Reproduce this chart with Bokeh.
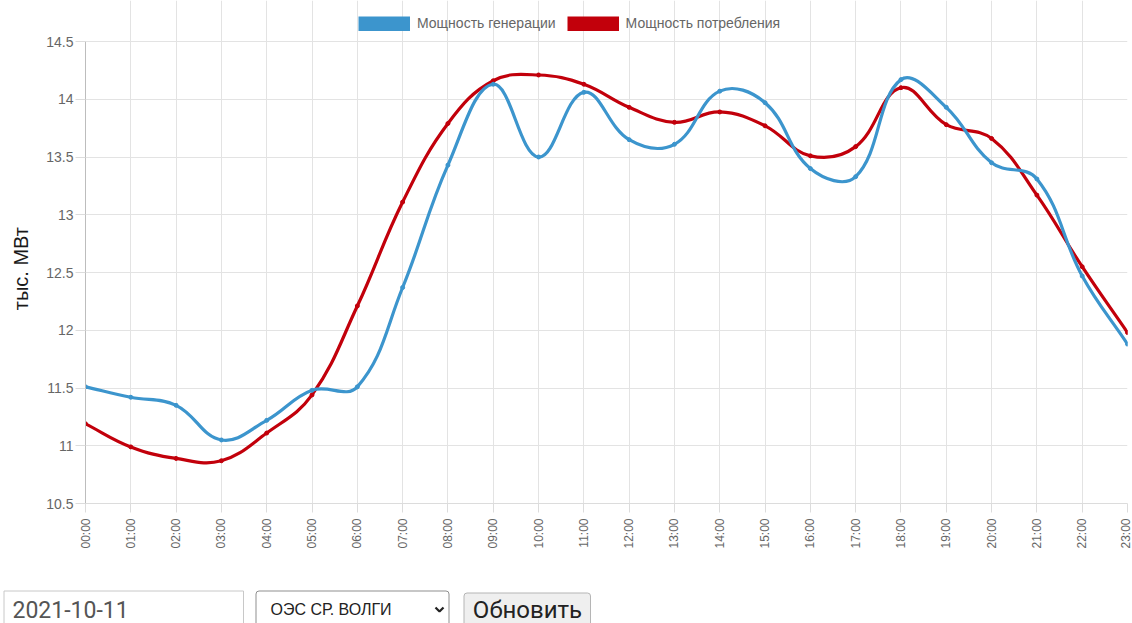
import math
from bokeh.plotting import figure
from bokeh.models import (Range1d, FixedTicker, NumeralTickFormatter, Legend,
                          LegendItem, ColumnDataSource)
from bokeh.layouts import column
from bokeh.embed import file_html
from bokeh.resources import INLINE
from bokeh.core.properties import value

# ---------------- data ----------------
hours = ["00:00", "01:00", "02:00", "03:00", "04:00", "05:00", "06:00", "07:00",
         "08:00", "09:00", "10:00", "11:00", "12:00", "13:00", "14:00", "15:00",
         "16:00", "17:00", "18:00", "19:00", "20:00", "21:00", "22:00", "23:00"]
generation = [11.51, 11.42, 11.35, 11.05, 11.22, 11.48, 11.51, 12.37,
              13.43, 14.13, 13.50, 14.06, 13.65, 13.61, 14.07, 13.97,
              13.40, 13.33, 14.17, 13.93, 13.45, 13.31, 12.47, 11.88]
consumption = [11.19, 10.99, 10.89, 10.87, 11.11, 11.44, 12.21, 13.11,
               13.79, 14.16, 14.21, 14.13, 13.93, 13.80, 13.89, 13.77,
               13.51, 13.59, 14.10, 13.78, 13.66, 13.17, 12.55, 11.98]
y_ticks = [10.5, 11, 11.5, 12, 12.5, 13, 13.5, 14, 14.5]
series_names = ["Мощность генерации", "Мощность потребления"]
y_title = "тыс. МВт"
date_text = "2021-10-11"
region_text = "ОЭС СР. ВОЛГИ"
button_text = "Обновить"

BLUE = "#3c95cd"
RED = "#c2000b"
FONT = "Liberation Sans"

W = 1132
H_MAIN = 578
H_CTRL = 45
ML, MR, MB = 85, 5, 75
PLOT_TOP = 41            # pixel row of the 14.5 gridline; legend lives above it
FW = W - ML - MR
FH = H_MAIN - MB          # frame spans from top of canvas to the x axis
DATA_H = FH - PLOT_TOP    # pixels used by the y tick range

x_idx = list(range(len(hours)))
sx = FW / (len(hours) - 1)
sy = DATA_H / (y_ticks[-1] - y_ticks[0])
y_top = y_ticks[-1] + PLOT_TOP / sy

p = figure(width=W, height=H_MAIN, output_backend="svg", toolbar_location=None,
           x_range=Range1d(0, len(hours) - 1), y_range=Range1d(y_ticks[0], y_top),
           min_border_left=ML, min_border_right=MR, min_border_top=0, min_border_bottom=MB)
p.frame_align = False
p.outline_line_color = None
p.background_fill_color = "white"
p.border_fill_color = "white"


def spline(xs, ys, sx, sy, t=0.4):
    n = len(xs)
    px = [x * sx for x in xs]
    py = [y * sy for y in ys]
    prev_cp, next_cp = [], []
    for i in range(n):
        a = max(i - 1, 0)
        b = min(i + 1, n - 1)
        d01 = math.hypot(px[i] - px[a], py[i] - py[a])
        d12 = math.hypot(px[b] - px[i], py[b] - py[i])
        tot = d01 + d12
        s01 = d01 / tot if tot else 0
        s12 = d12 / tot if tot else 0
        fa, fb = t * s01, t * s12
        prev_cp.append((px[i] - fa * (px[b] - px[a]), py[i] - fa * (py[b] - py[a])))
        next_cp.append((px[i] + fb * (px[b] - px[a]), py[i] + fb * (py[b] - py[a])))
    return dict(
        x0=xs[:-1], y0=ys[:-1], x1=xs[1:], y1=ys[1:],
        cx0=[next_cp[i][0] / sx for i in range(n - 1)],
        cy0=[next_cp[i][1] / sy for i in range(n - 1)],
        cx1=[prev_cp[i + 1][0] / sx for i in range(n - 1)],
        cy1=[prev_cp[i + 1][1] / sy for i in range(n - 1)],
    )


swatches = []
for ys, col in [(generation, BLUE), (consumption, RED)]:
    # hidden thick line: only used to give the legend a box-shaped swatch
    swatches.append(p.line(x_idx, ys, line_color=col, line_width=15, visible=False))

for ys, col in [(consumption, RED), (generation, BLUE)]:
    src = ColumnDataSource(spline(x_idx, ys, sx, sy))
    p.bezier("x0", "y0", "x1", "y1", "cx0", "cy0", "cx1", "cy1", source=src,
             line_color=col, line_width=3.2, line_cap="round")
    p.scatter(x_idx, ys, size=4, fill_color=col, line_color=col)

legend = Legend(items=[LegendItem(label=series_names[0], renderers=[swatches[0]]),
                       LegendItem(label=series_names[1], renderers=[swatches[1]])],
                orientation="horizontal", location=(358 - ML, FH - 31),
                glyph_width=52, glyph_height=15, label_height=15, label_standoff=7,
                spacing=11, padding=0, margin=0, border_line_color=None,
                background_fill_alpha=0, label_text_font=FONT,
                label_text_font_size="14px", label_text_color="#666666",
                label_text_baseline="middle", inactive_fill_alpha=0)
p.add_layout(legend)

# grids
p.xgrid.ticker = FixedTicker(ticks=x_idx)
p.ygrid.ticker = FixedTicker(ticks=y_ticks)
p.xgrid.bounds = (y_ticks[0], y_ticks[-1])
p.xgrid.grid_line_color = "#e3e3e3"
p.ygrid.grid_line_color = "#e3e3e3"

# x axis
p.xaxis.ticker = FixedTicker(ticks=x_idx)
p.xaxis.major_label_overrides = {i: h for i, h in enumerate(hours)}
p.xaxis.major_label_orientation = math.pi / 2
p.xaxis.major_label_text_font = FONT
p.xaxis.major_label_text_font_size = "12px"
p.xaxis.major_label_text_color = "#666666"
p.xaxis.major_label_standoff = 6
p.xaxis.major_tick_out = 9
p.xaxis.major_tick_in = 0
p.xaxis.minor_tick_out = 0
p.xaxis.major_tick_line_color = "#dcdcdc"
p.xaxis.axis_line_color = "#dcdcdc"

# y axis
p.yaxis.bounds = (y_ticks[0], y_ticks[-1])
p.yaxis.ticker = FixedTicker(ticks=y_ticks)
p.yaxis.formatter = NumeralTickFormatter(format="0.[0]")
p.yaxis.major_label_text_font = FONT
p.yaxis.major_label_text_font_size = "14px"
p.yaxis.major_label_text_color = "#666666"
p.yaxis.major_label_standoff = 2
p.yaxis.major_tick_out = 10
p.yaxis.major_tick_in = 0
p.yaxis.minor_tick_out = 0
p.yaxis.major_tick_line_color = "#dcdcdc"
p.yaxis.axis_line_color = "#bdbdbd"
# non-breaking spaces pad the title so it is centred on the 10.5-14.5 span
p.yaxis.axis_label = y_title + "\u00a0" * 6
p.yaxis.axis_label_text_font = FONT
p.yaxis.axis_label_text_font_size = "20px"
p.yaxis.axis_label_text_font_style = "normal"
p.yaxis.axis_label_text_color = "#1a1a1a"
p.yaxis.axis_label_standoff = 11

# ---------------- controls strip (page pixel coordinates) ----------------
TOP = H_MAIN
c = figure(width=W, height=H_CTRL, output_backend="svg", toolbar_location=None,
           x_range=Range1d(0, W), y_range=Range1d(TOP + H_CTRL, TOP),
           min_border=0, min_border_left=0, min_border_right=0,
           min_border_top=0, min_border_bottom=0)
c.frame_align = False
c.axis.visible = False
c.grid.visible = False
c.outline_line_color = None
c.background_fill_color = "white"
c.border_fill_color = "white"

CTRL_FONT = "Roboto"
c.quad(left=[3.5], right=[243], top=[590.5], bottom=[640], fill_color="white",
       line_color="#c8c8c8", line_width=1)
c.text(x=[12], y=[609], text=[date_text], text_font=value(CTRL_FONT),
       text_font_size="23px", text_color="#555555", text_baseline="middle")
c.quad(left=[255.5], right=[448.5], top=[590.5], bottom=[640], fill_color="white",
       line_color="#8f8f8f", line_width=1, border_radius=3)
c.text(x=[270], y=[609], text=[region_text], text_font=value(FONT),
       text_font_size="16px", text_color="#222222", text_baseline="middle")
c.line(x=[435, 439, 443], y=[607, 611, 607], line_color="#222222", line_width=2.2)
c.quad(left=[463.5], right=[590], top=[592.5], bottom=[640], fill_color="#efefef",
       line_color="#b5b5b5", line_width=1, border_radius=3)
c.text(x=[527], y=[609], text=[button_text], text_font=value(CTRL_FONT),
       text_font_size="24px", text_color="#222222", text_baseline="middle",
       text_align="center")

layout = column(p, c, spacing=0)
open("out.html", "w").write(file_html(layout, INLINE))
